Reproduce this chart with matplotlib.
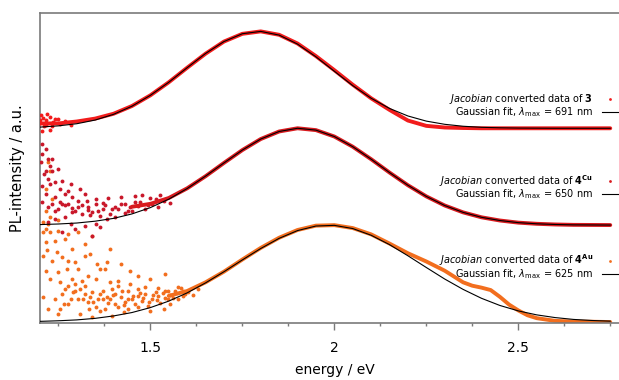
import matplotlib
matplotlib.use("Agg")
import matplotlib.pyplot as plt
from matplotlib.ticker import MultipleLocator
from matplotlib.legend import Legend

# energy grid of the fits (eV)
energy = [1.20, 1.25, 1.30, 1.35, 1.40, 1.45, 1.50, 1.55, 1.60, 1.65, 1.70, 1.75,
          1.80, 1.85, 1.90, 1.95, 2.00, 2.05, 2.10, 2.15, 2.20, 2.25, 2.30, 2.35,
          2.40, 2.45, 2.50, 2.55, 2.60, 2.65, 2.70, 2.75]

# Gaussian fits (normalised)
fit_3 = [0.012, 0.025, 0.047, 0.085, 0.144, 0.228, 0.340, 0.475, 0.625, 0.772, 0.895, 0.976,
         1.000, 0.962, 0.869, 0.738, 0.589, 0.441, 0.310, 0.205, 0.127, 0.074, 0.041, 0.021,
         0.010, 0.005, 0.002, 0.001, 0.0, 0.0, 0.0, 0.0]
fit_4cu = [0.006, 0.012, 0.022, 0.041, 0.070, 0.116, 0.181, 0.268, 0.378, 0.506, 0.642, 0.775,
           0.889, 0.967, 1.000, 0.981, 0.915, 0.810, 0.681, 0.543, 0.412, 0.297, 0.203, 0.132,
           0.081, 0.048, 0.026, 0.014, 0.007, 0.003, 0.002, 0.001]
fit_4au = [0.007, 0.013, 0.022, 0.038, 0.063, 0.098, 0.149, 0.216, 0.301, 0.404, 0.519, 0.641,
           0.759, 0.864, 0.944, 0.991, 0.998, 0.965, 0.896, 0.799, 0.684, 0.563, 0.444, 0.337,
           0.245, 0.171, 0.115, 0.074, 0.046, 0.027, 0.016, 0.009]

# Jacobian converted data, dense part
data_3 = [0.05, 0.05, 0.07, 0.10, 0.15, 0.23, 0.34, 0.475, 0.625, 0.77, 0.895, 0.975,
          1.0, 0.965, 0.875, 0.745, 0.60, 0.45, 0.31, 0.19, 0.08, 0.025, 0.008, 0.003,
          0.0, 0.0, 0.0, 0.0, 0.0, 0.0, 0.0, 0.0]
energy_4cu = [1.45, 1.50, 1.55, 1.60, 1.65, 1.70, 1.75, 1.80, 1.85, 1.90,
              1.95, 2.00, 2.05, 2.10, 2.15, 2.20, 2.25, 2.30, 2.35, 2.40, 2.45, 2.50, 2.55,
              2.60, 2.65, 2.70, 2.75]
data_4cu = [0.19, 0.22, 0.28, 0.38, 0.505, 0.642, 0.775, 0.889, 0.967, 1.0,
            0.981, 0.915, 0.81, 0.681, 0.543, 0.412, 0.297, 0.203, 0.132, 0.081, 0.048, 0.026,
            0.014, 0.007, 0.003, 0.002, 0.001]
energy_4au = [1.55, 1.60, 1.65, 1.70, 1.75, 1.80, 1.85, 1.90, 1.95, 2.00,
              2.05, 2.10, 2.15, 2.20, 2.25, 2.30, 2.35, 2.375, 2.40, 2.425, 2.45, 2.475,
              2.50, 2.525, 2.55, 2.60, 2.65, 2.70, 2.75]
data_4au = [0.27, 0.32, 0.41, 0.52, 0.645, 0.765, 0.87, 0.95, 0.995, 1.0,
            0.97, 0.905, 0.81, 0.71, 0.625, 0.53, 0.41, 0.375, 0.355, 0.33, 0.26, 0.18,
            0.12, 0.07, 0.04, 0.012, 0.005, 0.003, 0.0]

# noisy low-energy points
noise_3_x = [1.204, 1.209, 1.217, 1.226, 1.2065, 1.228, 1.212, 1.236, 1.25, 1.201,
             1.201, 1.215, 1.234, 1.255, 1.220, 1.242, 1.269, 1.283]
noise_3_y = [0.136, 0.105, 0.085, 0.116, -0.029, -0.019, 0.023, 0.064, 0.095, 0.054,
             0.085, 0.033, 0.023, 0.043, 0.146, 0.095, 0.074, 0.033]
noise_4cu_x = [1.2065, 1.2065, 1.204, 1.223, 1.228, 1.215, 1.234, 1.223, 1.2065, 1.228, 1.261,
               1.242, 1.277, 1.269, 1.215, 1.242, 1.2065, 1.234, 1.255, 1.277, 1.302, 1.329,
               1.304, 1.351, 1.370, 1.397, 1.288, 1.315, 1.269, 1.342, 1.242, 1.223, 1.323,
               1.351, 1.296, 1.342, 1.261, 1.419, 1.446, 1.473, 1.432, 1.386, 1.5, 1.459,
               1.405, 1.364, 1.527, 1.331,
               1.250, 1.269, 1.296, 1.315, 1.337, 1.359, 1.378, 1.391, 1.413, 1.432, 1.451,
               1.467, 1.486, 1.505, 1.522, 1.536, 1.554, 1.353, 1.288, 1.255, 1.242, 1.223,
               1.323, 1.419, 1.478, 1.383, 1.283, 1.364,
               1.261, 1.288, 1.331, 1.370, 1.405, 1.440, 1.459, 1.494, 1.514, 1.215, 1.234,
               1.212, 1.250, 1.283, 1.310]
noise_4cu_y = [0.837, 0.734, 0.651, 0.682, 0.610, 0.558, 0.558, 0.476, 0.404, 0.424, 0.455,
               0.445, 0.352, 0.321, 0.321, 0.290, 0.238, 0.218, 0.238, 0.218, 0.249, 0.249,
               0.187, 0.218, 0.166, 0.166, 0.135, 0.115, 0.084, 0.135, 0.063, 0.032, -0.009,
               0.011, -0.040, -0.112, -0.071, 0.218, 0.187, 0.238, 0.125, 0.28, 0.28, 0.30,
               0.084, 0.094, 0.31, 0.187,
               0.166, 0.207, 0.146, 0.207, 0.104, 0.146, 0.207, 0.115, 0.166, 0.218, 0.146,
               0.197, 0.166, 0.218, 0.187, 0.249, 0.228, 0.269, 0.290, 0.373, 0.146, 0.187,
               0.321, 0.290, 0.311, 0.063, 0.011, -0.019,
               0.218, 0.176, 0.156, 0.228, 0.187, 0.146, 0.238, 0.207, 0.269, 0.785, 0.682,
               0.527, 0.579, 0.424, 0.373]
noise_4au_x = [1.223, 1.228, 1.215, 1.234, 1.215, 1.228, 1.250, 1.215, 1.207, 1.223, 1.207,
               1.228, 1.250, 1.277, 1.304, 1.342, 1.215, 1.242, 1.269, 1.220, 1.207, 1.247,
               1.261, 1.234, 1.277, 1.296, 1.323, 1.274, 1.215, 1.250, 1.304, 1.356, 1.383,
               1.378, 1.331, 1.228, 1.288, 1.255, 1.315, 1.351, 1.391, 1.413, 1.467, 1.207,
               1.223, 1.255, 1.277, 1.296, 1.323, 1.342, 1.370, 1.304, 1.331, 1.359, 1.383,
               1.405, 1.424, 1.277, 1.405, 1.378, 1.432, 1.451, 1.467, 1.486, 1.505, 1.522,
               1.440, 1.342, 1.397, 1.467, 1.541, 1.560, 1.582, 1.549, 1.595, 1.364,
               1.261, 1.283, 1.310, 1.337, 1.351, 1.364, 1.391, 1.413, 1.419, 1.440, 1.459,
               1.478, 1.494, 1.514, 1.527, 1.541, 1.554, 1.568, 1.576, 1.590, 1.603, 1.617,
               1.486, 1.446, 1.397, 1.323, 1.296, 1.269, 1.242, 1.250, 1.500, 1.536, 1.427,
               1.364, 1.310, 1.473, 1.519, 1.554, 1.630, 1.419, 1.337, 1.391, 1.446, 1.500,
               1.541, 1.323, 1.288,
               1.264, 1.291, 1.318, 1.345, 1.372, 1.399, 1.427, 1.454, 1.481, 1.508, 1.535,
               1.562, 1.590, 1.332, 1.386, 1.440, 1.495, 1.549, 1.413, 1.467, 1.522, 1.576]
noise_4au_y = [1.651, 1.558, 1.373, 1.269, 1.146, 1.084, 1.053, 0.960, 1.032, 1.011, 0.929,
               0.929, 0.939, 0.908, 0.929, 0.888, 0.826, 0.836, 0.857, 0.743, 0.681, 0.722,
               0.671, 0.630, 0.630, 0.619, 0.681, 0.547, 0.526, 0.516, 0.547, 0.599, 0.619,
               0.547, 0.475, 0.444, 0.444, 0.413, 0.423, 0.444, 0.413, 0.423, 0.475, 0.258,
               0.134, 0.134, 0.372, 0.320, 0.372, 0.310, 0.320, 0.237, 0.206, 0.237, 0.258,
               0.289, 0.320, 0.186, 0.186, 0.134, 0.206, 0.237, 0.268, 0.289, 0.237, 0.268,
               0.134, 0.052, 0.062, 0.155, 0.320, 0.279, 0.351, 0.237, 0.289, 0.547,
               0.289, 0.237, 0.341, 0.258, 0.155, 0.289, 0.237, 0.155, 0.258, 0.320, 0.186,
               0.217, 0.165, 0.310, 0.196, 0.248, 0.186, 0.320, 0.237, 0.268, 0.310, 0.279,
               0.361, 0.392, 0.341, 0.289, 0.392, 0.341, 0.237, 0.083, 0.114, 0.134, 0.103,
               0.114, 0.083, 0.299, 0.227, 0.279, 0.341, 0.599, 0.702, 0.753, 0.526, 0.444,
               0.495, 0.805, 0.753,
               0.186, 0.310, 0.237, 0.206, 0.237, 0.279, 0.175, 0.268, 0.248, 0.279, 0.299,
               0.248, 0.320, 0.134, 0.196, 0.237, 0.206, 0.320, 0.372, 0.341, 0.351, 0.361]

offsets = [2, 1, 0]
labels_data = [r"$\mathit{Jacobian}$ converted data of $\mathbf{3}$",
               r"$\mathit{Jacobian}$ converted data of $\mathbf{4^{Cu}}$",
               r"$\mathit{Jacobian}$ converted data of $\mathbf{4^{Au}}$"]
labels_fit = [r"Gaussian fit, $\lambda_{\mathrm{max}}$ = 691 nm",
              r"Gaussian fit, $\lambda_{\mathrm{max}}$ = 650 nm",
              r"Gaussian fit, $\lambda_{\mathrm{max}}$ = 625 nm"]
tick_pos = [1.5, 2.0, 2.5]
tick_labels = ["1.5", "2", "2.5"]

c3 = "#f21c1c"
ccu = "#d81a1e"
ccu_dots = "#c9182a"
cau = "#f26e1e"
grey = "#7a7a7a"

fig = plt.figure(figsize=(6.19, 3.80), dpi=100)
ax = fig.add_axes([0.0646, 0.15, 0.94, 0.8158])

# bottom series first
ax.plot(noise_4au_x, [v + offsets[2] for v in noise_4au_y], 'o', ms=2.8, mew=0,
        color=cau, zorder=2)
ax.plot(energy_4au, [v + offsets[2] for v in data_4au], '-', lw=2.8, color=cau,
        solid_capstyle='round', zorder=2)
ax.plot(noise_4cu_x, [v + offsets[1] for v in noise_4cu_y], 'o', ms=2.8, mew=0,
        color=ccu_dots, zorder=3)
ax.plot(energy_4cu, [v + offsets[1] for v in data_4cu], '-', lw=2.8, color=ccu,
        solid_capstyle='round', zorder=3)
ax.plot(noise_3_x, [v + offsets[0] for v in noise_3_y], 'o', ms=2.8, mew=0,
        color=c3, zorder=4)
ax.plot(energy, [v + offsets[0] for v in data_3], '-', lw=2.8, color=c3,
        solid_capstyle='round', zorder=4)

fits = [fit_3, fit_4cu, fit_4au]
for f, off in zip(fits, offsets):
    ax.plot(energy, [v + off for v in f], '-', lw=0.8, color='black', zorder=5)

# legends
dot_colors = [c3, ccu, cau]
legend_tops = [1 - 92.5 / 380, 1 - 173 / 380, 1 - 252.5 / 380]
for i in range(3):
    h1, = ax.plot([], [], 'o', ms=2, mew=0, color=dot_colors[i])
    h2, = ax.plot([], [], '-', lw=0.8, color='black')
    leg = Legend(ax, [h1, h2], [labels_data[i], labels_fit[i]], loc='upper right',
                 bbox_to_anchor=(1.0, legend_tops[i]), bbox_transform=fig.transFigure,
                 frameon=False, markerfirst=False, fontsize=7, handlelength=1.75,
                 handletextpad=0.9, labelspacing=-0.12, borderpad=0, borderaxespad=0)
    leg._legend_box.align = 'right'
    ax.add_artist(leg)

ax.set_xlim(1.2, 2.7815)
ax.set_ylim(-0.01, 3.19)
ax.set_xticks(tick_pos, tick_labels)
ax.xaxis.set_minor_locator(MultipleLocator(0.125))
ax.tick_params(axis='x', which='major', length=5, width=1, color=grey, labelsize=10, pad=8)
ax.tick_params(axis='x', which='minor', length=2.5, width=1, color=grey)
ax.set_yticks([])

for s in ['left', 'top', 'bottom']:
    ax.spines[s].set_color(grey)
    ax.spines[s].set_linewidth(1.2)
ax.spines['right'].set_visible(False)

ax.set_xlabel("energy / eV", fontsize=10)
ax.xaxis.set_label_coords(0.507, -0.128)
ax.set_ylabel("PL-intensity / a.u.", fontsize=10.5, labelpad=11)

fig.savefig("out.png", dpi=100)
